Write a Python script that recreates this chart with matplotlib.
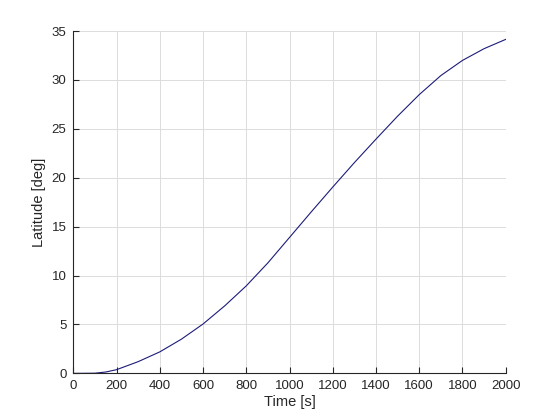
import matplotlib
matplotlib.use("Agg")
import matplotlib.pyplot as plt

# values
time_s = [0, 100, 150, 200, 300, 400, 500, 600, 700, 800, 900, 1000,
          1100, 1200, 1300, 1400, 1500, 1600, 1700, 1800, 1900, 2000]
latitude_deg = [0.0, 0.02, 0.14, 0.38, 1.2, 2.2, 3.5, 5.05, 6.9, 8.95, 11.3, 13.9,
                16.5, 19.05, 21.55, 23.95, 26.3, 28.5, 30.45, 32.0, 33.2, 34.15]

x_ticks = list(range(0, 2001, 200))
y_ticks = list(range(0, 36, 5))

plt.rcParams["font.family"] = ["Liberation Sans", "DejaVu Sans"]

fig = plt.figure(figsize=(5.6, 4.2), dpi=100)
ax = fig.add_axes([0.131, 0.111, 0.772, 0.815])

ax.plot(time_s, latitude_deg, color="#1c1c7a", lw=0.8)

ax.set_xlim(0, 2000)
ax.set_ylim(0, 35)
ax.set_xticks(x_ticks)
ax.set_yticks(y_ticks)
ax.grid(True, color="#dcdcdc", lw=0.7)
ax.set_axisbelow(True)

for side in ("top", "right"):
    ax.spines[side].set_visible(False)
for side in ("left", "bottom"):
    ax.spines[side].set_color("#262626")
    ax.spines[side].set_linewidth(0.8)

ax.tick_params(direction="in", length=4, width=0.8, colors="#262626",
               labelsize=9.5, pad=5)
ax.set_xlabel("Time [s]", fontsize=10.5, color="#262626", labelpad=2)
ax.set_ylabel("Latitude [deg]", fontsize=10.5, color="#262626", labelpad=4)

fig.savefig("out.png", dpi=100)
